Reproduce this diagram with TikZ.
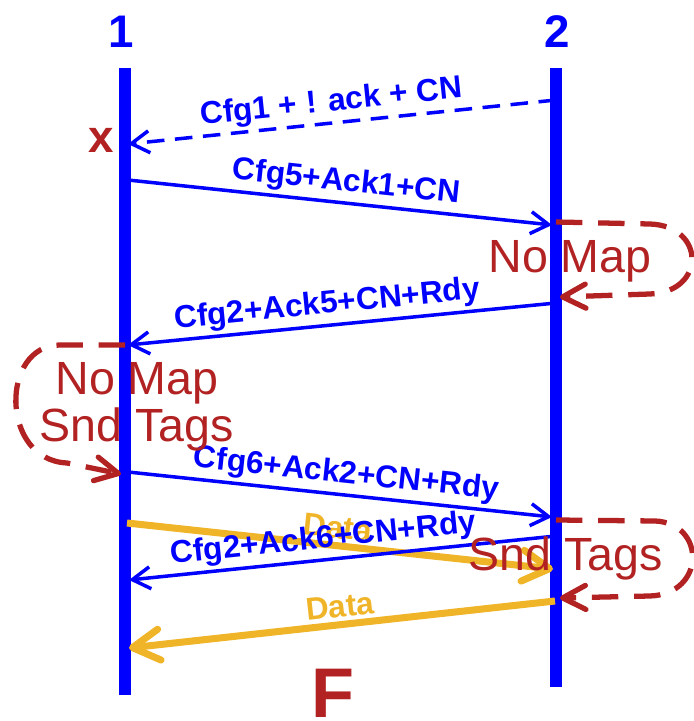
\documentclass[tikz,border=0pt]{standalone}
\usepackage{fontspec}
\setmainfont{Liberation Sans}
\usepackage{tikz}
\usepackage{xcolor}
\usetikzlibrary{arrows.meta, positioning, calc}
\definecolor{linkblue}{HTML}{0000FF}
\definecolor{brick}{HTML}{B22222}
\definecolor{amber}{HTML}{F0B429}
\tikzstyle{lifeline} = [draw=linkblue, line width=6.3pt]
\tikzstyle{peer} = [text=linkblue, font=\fontsize{26}{28}\selectfont\bfseries, inner sep=0pt]
\tikzstyle{msg} = [draw=linkblue, line width=2pt,
                   -{Straight Barb[length=3.6mm, width=4.4mm]}]
\tikzstyle{msglabel} = [text=linkblue, font=\fontsize{18}{20}\selectfont\bfseries,
                        sloped, above=1pt, inner sep=1pt]
\tikzstyle{datamsg} = [draw=amber, line width=4pt,
                       -{Straight Barb[length=5.4mm, width=6.2mm, round]}]
\tikzstyle{datalabel} = [text=amber, font=\fontsize{18}{20}\selectfont\bfseries,
                         sloped, above=1pt, inner sep=1pt]
\tikzstyle{stateloop} = [draw=brick, line width=3pt, dash pattern=on 15pt off 9pt,
                         -{Straight Barb[length=4.6mm, width=4.8mm, round]}]
\tikzstyle{statetext} = [text=brick, font=\fontsize{26.5}{27}\selectfont,
                         anchor=base, inner sep=0pt]

\begin{document}
\begin{tikzpicture}
    \useasboundingbox (0,0) rectangle (13.88,14.42);

    % the two peers and their time lines
    \node[peer] (p1) at (2.42,13.78) {1};
    \node[peer] (p2) at (11.14,13.78) {2};
    \coordinate (l1top) at (2.5,13.06);
    \coordinate (l1bot) at (2.5,0.52);
    \coordinate (l2top) at (11.12,13.06);
    \coordinate (l2bot) at (11.12,0.68);
    \draw[lifeline] (l1top) -- (l1bot);
    \draw[lifeline] (l2top) -- (l2bot);

    % message end points
    \coordinate (b1) at (11.12,12.42);
    \coordinate (a1) at (2.56,11.54);
    \coordinate (a2) at (2.56,10.82);
    \coordinate (b2) at (11.04,9.92);
    \coordinate (b3) at (11.12,8.36);
    \coordinate (a3) at (2.56,7.52);
    \coordinate (a4) at (2.56,4.98);
    \coordinate (b4) at (11.04,4.08);
    \coordinate (a5) at (2.54,3.96);
    \coordinate (b5) at (11.06,3.04);
    \coordinate (b6) at (11.12,3.70);
    \coordinate (a6) at (2.58,2.82);
    \coordinate (b7) at (11.10,2.40);
    \coordinate (a7) at (2.58,1.46);

    % lost frame
    \node[text=brick, font=\fontsize{26}{28}\selectfont\bfseries] (lost) at (2.02,11.62) {x};

    % data frames first, so the labels sit on top
    \draw[datamsg] (a5) -- node[datalabel, pos=0.49] (d1) {Data} (b5);
    \draw[datamsg] (b7) -- node[datalabel, pos=0.50] (d2) {Data} (a7);

    % config / ack exchange
    \draw[msg, dash pattern=on 10pt off 6pt] (b1) -- node[msglabel, pos=0.52] (m1) {Cfg1 + ! ack + CN} (a1);
    \draw[msg] (a2) -- node[msglabel, pos=0.51] (m2) {Cfg5+Ack1+CN} (b2);
    \draw[msg] (b3) -- node[msglabel, pos=0.53] (m3) {Cfg2+Ack5+CN+Rdy} (a3);
    \draw[msg] (a4) -- node[msglabel, pos=0.51] (m4) {Cfg6+Ack2+CN+Rdy} (b4);
    \draw[msg] (b6) -- node[msglabel, pos=0.54] (m5) {Cfg2+Ack6+CN+Rdy} (a6);

    % local states
    \coordinate (s1in) at (11.12,9.98);
    \coordinate (s1out) at (11.20,8.48);
    \draw[stateloop] (s1in) -- (13.0,9.94) .. controls (14.12,9.9) and (14.12,8.58) .. (13.0,8.54) -- (s1out);
    \node[statetext] (nomapR) at (11.40,8.96) {No Map};

    \coordinate (s2in) at (2.5,7.52);
    \coordinate (s2out) at (2.42,4.94);
    \draw[stateloop] (s2in) -- (1.2,7.52) .. controls (0,7.52) and (0,5.22) .. (1.34,5.16) -- (s2out);
    \node[statetext] (nomapL) at (2.74,6.52) {No Map};
    \node[statetext] (sndtagsL) at (2.74,5.58) {Snd Tags};

    \coordinate (s3in) at (11.12,4.02);
    \coordinate (s3out) at (11.20,2.46);
    \draw[stateloop] (s3in) -- (13.1,4.0) .. controls (14.12,3.96) and (14.12,2.54) .. (13.0,2.5) -- (s3out);
    \node[statetext] (sndtagsR) at (11.32,3.02) {Snd Tags};

    \node[text=brick, font=\fontsize{40}{42}\selectfont\bfseries, anchor=base, inner sep=0pt] (fig) at (6.66,0.06) {F};
\end{tikzpicture}
\end{document}
